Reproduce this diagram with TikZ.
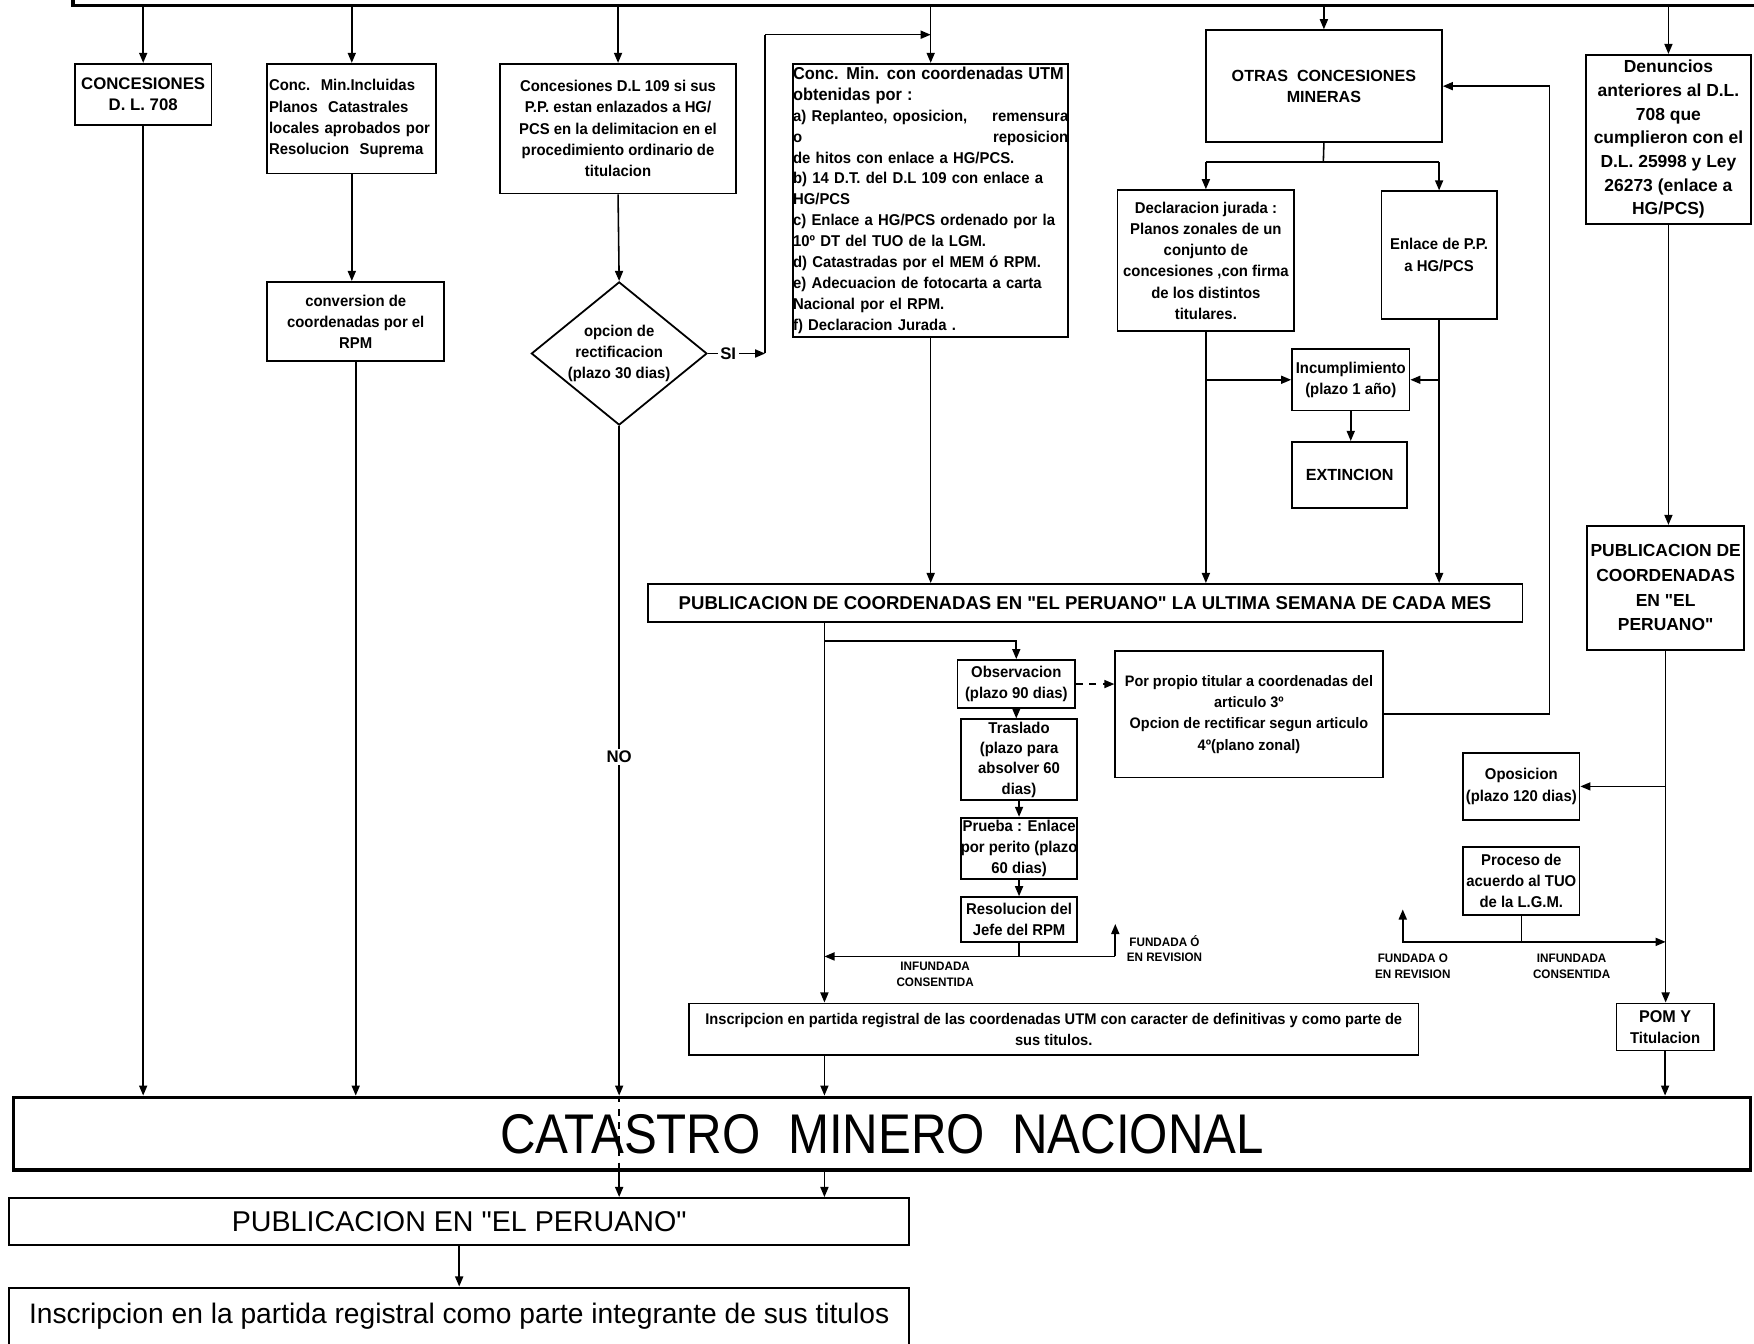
\documentclass[tikz,border=0pt]{standalone}
\usepackage{fontspec}
\setmainfont{Liberation Sans}[Ligatures=TeXOff]
\newfontfamily\narrowsans{Liberation Sans}[FakeStretch=0.95, Ligatures=TeXOff]
\newfontfamily\catfont{Liberation Sans}[FakeStretch=0.88, Ligatures=TeXOff]
\usetikzlibrary{arrows.meta,shapes.geometric}

\tikzset{
  box/.style={draw, line width=0.8pt, inner sep=0pt, align=center,
              font=\narrowsans\bfseries\fontsize{7}{9.5}\selectfont},
  conn/.style={line width=0.7pt},
  arr/.style={conn, -{Triangle[length=4.5pt,width=3.6pt]}},
  lbl/.style={inner sep=1pt, align=center,
              font=\narrowsans\bfseries\fontsize{5.5}{7}\selectfont},
  yesno/.style={inner sep=1pt, fill=white,
              font=\bfseries\fontsize{7.5}{9}\selectfont},
}

\begin{document}
\begin{tikzpicture}[x=0.5pt, y=-0.5pt]
\useasboundingbox (0,0) rectangle (1568,1201);
\fill[white] (0,0) rectangle (1568,1201);

% top distribution bar (lower edge of the heading box)
\coordinate (tbL) at (65,5);
\coordinate (tbR) at (1570,5);
\draw[line width=1.6pt] (65,-3) -- (tbL) -- (tbR);

% ---------- first row of boxes ----------
\node[box, minimum width=61pt, minimum height=27.5pt, font=\bfseries\fontsize{7.5}{9.5}\selectfont]
  (c708) at (128,84.5) {CONCESIONES\\D. L. 708};
\node[box, minimum width=75.5pt, minimum height=49pt, align=left, text width=74pt]
  (cmi) at (314.5,106)
  {Conc.\ \ Min.Incluidas\\Planos\ \ Catastrales\\locales aprobados por\\Resolucion\ \ Suprema\\[2pt]};
\node[box, minimum width=79pt, minimum height=35.5pt] (conv) at (318,287.5)
  {conversion de\\coordenadas por el\\RPM};
\node[box, minimum width=105.5pt, minimum height=58pt] (c109) at (552.5,115)
  {Concesiones D.L 109 si sus\\P.P. estan enlazados a HG/\\PCS en la delimitacion en el\\procedimiento ordinario de\\titulacion};
\node[draw, diamond, line width=0.8pt, minimum width=78.5pt, minimum height=64pt, inner sep=0pt]
  (dia) at (553.5,316) {};
\node[box, draw=none] (diat) at (dia.center) {opcion de\\rectificacion\\(plazo 30 dias)};

\node[box, minimum width=123pt, minimum height=122pt, align=left, text width=123pt,
      font=\narrowsans\bfseries\fontsize{7}{9.35}\selectfont] (utm) at (832,179)
  {{\fontsize{7.7}{9.35}\selectfont Conc. Min. con coordenadas UTM}\\
   {\fontsize{7.7}{9.35}\selectfont obtenidas por :}\\
   a) Replanteo, oposicion,\hfill remensura\\
   o\hfill reposicion\\
   de hitos con enlace a HG/PCS.\\
   b) 14 D.T. del D.L 109 con enlace a\\
   HG/PCS\\
   c) Enlace a HG/PCS ordenado por la\\
   10º DT del TUO de la LGM.\\
   d) Catastradas por el MEM ó RPM.\\
   e) Adecuacion de fotocarta a carta\\
   Nacional por el RPM.\\
   f) Declaracion Jurada .};

\node[box, minimum width=105.5pt, minimum height=50pt, font=\bfseries\fontsize{7.2}{9.5}\selectfont]
  (otras) at (1183.5,77) {OTRAS\ \ CONCESIONES\\MINERAS};
\node[box, minimum width=79pt, minimum height=63pt] (decl) at (1078,233)
  {Declaracion jurada :\\Planos zonales de un\\conjunto de\\concesiones ,con firma\\de los distintos\\titulares.};
\node[box, minimum width=51.5pt, minimum height=57pt] (enl) at (1286.5,228) {Enlace de P.P.\\a HG/PCS};
\node[box, minimum width=52.5pt, minimum height=27.5pt] (inc) at (1207.5,339.5) {Incumplimiento\\(plazo 1 año)};
\node[box, minimum width=51.5pt, minimum height=29.5pt, font=\bfseries\fontsize{7.2}{9}\selectfont]
  (ext) at (1206.5,424.5) {EXTINCION};

\node[box, minimum width=73.5pt, minimum height=75.5pt, font=\bfseries\fontsize{7.8}{10.6}\selectfont]
  (den) at (1491.5,124.5)
  {Denuncios\\anteriores al D.L.\\708 que\\cumplieron con el\\D.L. 25998 y Ley\\26273 (enlace a\\HG/PCS)};
\node[box, minimum width=70pt, minimum height=55.5pt, font=\bfseries\fontsize{7.8}{11}\selectfont]
  (pubr) at (1489,525.5) {PUBLICACION DE\\COORDENADAS\\EN "EL\\PERUANO"};

% ---------- publication of coordinates and its procedure ----------
\node[box, minimum width=391pt, minimum height=17pt, font=\bfseries\fontsize{8.3}{10}\selectfont]
  (pubc) at (970,539)
  {PUBLICACION DE COORDENADAS EN "EL PERUANO" LA ULTIMA SEMANA DE CADA MES};
\node[box, minimum width=52.5pt, minimum height=21.5pt] (obs) at (908.5,611.5) {Observacion\\(plazo 90 dias)};
\node[box, minimum width=119.5pt, minimum height=56.5pt, font=\narrowsans\bfseries\fontsize{6.8}{9.5}\selectfont]
  (por) at (1116.5,638.5)
  {Por propio titular a coordenadas del\\articulo 3º\\Opcion de rectificar segun articulo\\4º(plano zonal)};
\node[box, minimum width=52pt, minimum height=36pt, font=\narrowsans\bfseries\fontsize{7}{9.1}\selectfont]
  (tras) at (911,679) {Traslado\\(plazo para\\absolver 60\\dias)};
\node[box, minimum width=52pt, minimum height=27.5pt] (prue) at (911,758.5) {Prueba : Enlace\\por perito (plazo\\60 dias)};
\node[box, minimum width=52pt, minimum height=20pt] (res) at (911,822) {Resolucion del\\Jefe del RPM};
\node[box, minimum width=326pt, minimum height=23pt, font=\narrowsans\bfseries\fontsize{6.9}{9.5}\selectfont]
  (insc) at (942,920)
  {Inscripcion en partida registral de las coordenadas UTM con caracter de definitivas y como parte de\\sus titulos.};

\node[box, minimum width=52pt, minimum height=30pt] (opos) at (1360,703) {Oposicion\\(plazo 120 dias)};
\node[box, minimum width=52pt, minimum height=30.5pt] (proc) at (1360,787.5) {Proceso de\\acuerdo al TUO\\de la L.G.M.};
\node[box, minimum width=43.5pt, minimum height=21pt] (pom) at (1488.5,918)
  {{\fontsize{7.6}{9.5}\selectfont POM Y}\\Titulacion};

% ---------- bottom ----------
\node[draw, line width=1.6pt, minimum width=776.5pt, minimum height=32.5pt, inner sep=0pt,
      font=\catfont\fontsize{25}{30}\selectfont] (cat) at (788.5,1013.5) {CATASTRO\ \ MINERO\ \ NACIONAL};
\node[draw, line width=0.9pt, minimum width=402.5pt, minimum height=21pt, inner sep=0pt,
      font=\fontsize{12.8}{14}\selectfont] (pub) at (410.5,1092) {PUBLICACION EN "EL PERUANO"};
\node[draw, line width=0.9pt, minimum width=402.5pt, minimum height=26pt, inner sep=0pt,
      font=\fontsize{12.6}{14}\selectfont] (fin) at (410.5,1177)
  {Inscripcion en la partida registral como parte integrante de sus titulos};

% ---------- connectors from the top bar ----------
\draw[arr] (tbL -| c708.north) -- (c708.north);
\draw[arr] (tbL -| cmi.north) -- (cmi.north);
\draw[arr] (tbL -| c109.north) -- (c109.north);
\draw[arr] (tbL -| utm.north) -- (utm.north);
\draw[arr] (tbL -| otras.north) -- (otras.north);
\draw[arr] (tbL -| den.north) -- (den.north);

% left columns
\draw[arr] (c708.south) -- (c708.south |- cat.north);
\draw[arr] (cmi.south) -- (cmi.south |- conv.north);
\draw[arr] (conv.south) -- (conv.south |- cat.north);
\draw[arr] (c109.south) -- (dia.north);

% decision: SI / NO
\coordinate (siA) at (684,316);
\coordinate (siTop) at (684,31);
\node[yesno] (si) at (651,316) {SI};
\draw[conn] (dia.east) -- (si.west);
\draw[arr] (si.east) -- (siA);
\draw[conn] (siA) -- (siTop);
\draw[arr] (siTop) -- (siTop -| utm.north);
\draw[arr] (dia.south) -- node[yesno, pos=0.494] (no) {NO} (dia.south |- cat.north);
\draw[conn, dashed] (dia.south |- cat.north) -- (dia.south |- cat.south);
\draw[arr] (dia.south |- cat.south) -- (dia.south |- pub.north);

% UTM column
\draw[arr] (utm.south) -- (utm.south |- pubc.north);

% other concessions
\coordinate (splO) at (1183,145);
\draw[conn] (otras.south) -- (splO);
\draw[conn] (splO -| decl.north) -- (splO -| enl.north);
\draw[arr] (splO -| decl.north) -- (decl.north);
\draw[arr] (splO -| enl.north) -- (enl.north);
\draw[arr] (decl.south) -- (decl.south |- pubc.north);
\draw[arr] (enl.south) -- (enl.south |- pubc.north);
\draw[arr] (decl.south |- inc.west) -- (inc.west);
\draw[arr] (enl.south |- inc.east) -- (inc.east);
\draw[arr] (inc.south) -- (inc.south |- ext.north);

% right column
\draw[arr] (den.south) -- (den.south |- pubr.north);
\draw[arr] (pubr.south) -- (pubr.south |- pom.north);
\draw[arr] (pubr.south |- opos.east) -- (opos.east);
\coordinate (spl2) at (1356,842);
\coordinate (fu2) at (1254,842);
\draw[conn] (proc.south) -- (proc.south |- spl2);
\draw[arr] (proc.south |- spl2) -- (pubr.south |- spl2);
\draw[arr] (proc.south |- spl2) -- (fu2) -- ++(0,-29);
\node[lbl] (fu2t) at (1263,864) {FUNDADA O\\EN REVISION};
\node[lbl] (in2t) at (1405,864) {INFUNDADA\\CONSENTIDA};
\draw[arr] (pom.south) -- (pom.south |- cat.north);

% procedure after publication
\coordinate (xI) at (737,0);
\coordinate (brO) at (737,573);
\draw[arr] (pubc.south -| xI) -- (insc.north -| xI);
\draw[arr] (brO) -- (brO -| obs.north) -- (obs.north);
\draw[arr, dashed] (obs.east) -- (obs.east -| por.west);
\coordinate (rtx) at (1385,0);
\draw[arr] (por.east) -- (por.east -| rtx) -- (otras.east -| rtx) -- (otras.east);
\draw[arr] (obs.south) -- (obs.south |- tras.north);
\draw[arr] (tras.south) -- (tras.south |- prue.north);
\draw[arr] (prue.south) -- (prue.south |- res.north);
\coordinate (fR) at (997,855);
\draw[conn] (res.south) -- (res.south |- fR);
\draw[arr] (fR) -- (xI |- fR);
\draw[arr] (fR) -- ++(0,-29);
\node[lbl] (fu1t) at (1041,848) {FUNDADA Ó\\EN REVISION};
\node[lbl] (in1t) at (836,871) {INFUNDADA\\CONSENTIDA};
\draw[arr] (insc.south -| xI) -- (cat.north -| xI);

% from the national cadastre
\draw[arr] (cat.south -| xI) -- (pub.north -| xI);
\draw[arr] (pub.south) -- (pub.south |- fin.north);
\end{tikzpicture}
\end{document}
